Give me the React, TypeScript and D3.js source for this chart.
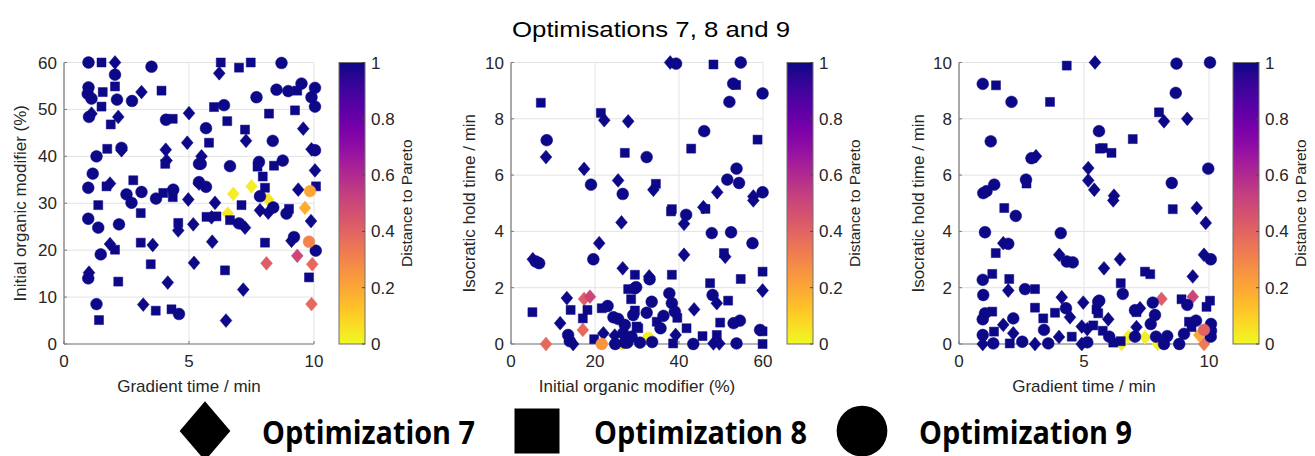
import React from "react";
import * as d3 from "d3";

type Pt = [number, number, number?];

// ---------- Panel 1: gradient time vs initial organic modifier ----------
const p1Diamonds: Pt[] = [
  [2.04, 60], [3.1, 53.7], [1.1, 49.1], [2.17, 48.4], [5.0, 49.2], [2.3, 41.3], [4.07, 41.4], [4.93, 42.9],
  [4.1, 39.1], [1.84, 34.2], [4.97, 30.8], [5.4, 34.2], [4.57, 24.2], [5.17, 25.5], [1.84, 21.3], [3.55, 21.1],
  [5.2, 17.3], [1.0, 15.2], [4.15, 13.1], [3.17, 8.4], [6.21, 57.7], [9.57, 45.9], [7.28, 43.3], [9.9, 41.5],
  [5.5, 40], [10.04, 37], [9.37, 32.9], [6.04, 30.1], [7.84, 28.5], [8.17, 28], [5.9, 27], [7.24, 24.8],
  [9.88, 26.2], [5.93, 21.8], [9.1, 22], [7.17, 11.6], [6.48, 5.0],
  [6.77, 32, 0.03], [7.5, 33.6, 0.03], [8.17, 30.8, 0.05], [6.55, 27.8, 0.04], [9.64, 29.0, 0.18],
  [9.33, 18.8, 0.5], [8.1, 17.2, 0.42], [9.93, 17.0, 0.38], [9.9, 8.5, 0.38],
];
const p1Squares: Pt[] = [
  [1.5, 60], [1.55, 53.7], [2.04, 54.9], [3.9, 54], [1.5, 50.6], [1.87, 46.8], [4.35, 48], [1.73, 41.6],
  [4.05, 38.4], [1.7, 33.6], [2.77, 34.9], [1.37, 29.6], [3.97, 32.2], [4.35, 31.3], [3.07, 27.9], [4.57, 25.8],
  [2.04, 20.1], [3.07, 21.6], [3.47, 17], [2.17, 13.3], [3.67, 7.1], [4.3, 7.4], [1.4, 5.1], [6.27, 60],
  [7.0, 58.9], [7.47, 60], [9.33, 54], [6.0, 50.5], [8.2, 49.1], [9.24, 49.8], [6.53, 47.5], [7.24, 45.7],
  [5.8, 42.9], [7.74, 37.8], [8.4, 38], [7.95, 35.7], [8.04, 33.3], [10.08, 33.6], [7.1, 29.6], [9.0, 28.8],
  [5.7, 27.1], [6.1, 27.2], [6.64, 26.4], [8.04, 21.6], [6.44, 15.7], [9.8, 14.2],
];
const p1Circles: Pt[] = [
  [0.98, 60], [2.04, 57.4], [3.5, 59.1], [0.98, 54.7], [0.95, 53.3], [1.1, 52.3], [2.12, 52.1], [2.72, 51.8],
  [1.0, 48.4], [4.08, 47.8], [2.3, 41.8], [1.3, 40], [5.4, 38.4], [1.15, 36.3], [0.97, 33.3], [2.5, 31.9],
  [3.1, 32.4], [2.7, 30.1], [3.68, 31], [4.37, 32.9], [0.97, 26.7], [1.37, 24.8], [2.2, 25.5], [1.47, 19.1],
  [0.97, 14], [1.3, 8.5], [4.6, 6.4], [8.7, 59.9], [8.5, 54.2], [8.97, 53.9], [9.5, 55.5], [10.04, 54.6],
  [9.9, 52.6], [10.04, 50.6], [7.7, 52.6], [6.4, 50.9], [5.68, 46], [8.35, 43.3], [10.04, 41.3], [5.47, 38.4],
  [6.64, 37.9], [7.8, 38.8], [8.75, 39.1], [5.4, 34.5], [5.68, 33.5], [7.84, 31.5], [8.37, 29.1], [8.9, 27.8],
  [7.0, 25.7], [9.2, 22.8], [10.07, 19.9],
  [9.84, 32.6, 0.2], [9.8, 21.8, 0.3],
];

// ---------- Panel 2: initial organic modifier vs isocratic hold ----------
const p2Diamonds: Pt[] = [
  [22.2, 7.95], [27.9, 7.91], [8.33, 6.64], [17.4, 6.22], [25.5, 5.81], [37.9, 10.0], [49.1, 5.39], [57.7, 5.24],
  [33.9, 5.48], [45.8, 4.86], [26.3, 4.32], [21, 3.58], [26.6, 2.69], [5.2, 3.01], [13.3, 1.63], [11.7, 0.74],
  [14.8, 0.0], [22, 0.38], [24.7, 0.3], [41.2, 4.27], [57.7, 5.1], [41.2, 3.17], [51, 3.1], [32.9, 2.4],
  [59.9, 1.9], [49, 1.45], [43.6, 1.23], [39.2, 0.32], [48.2, 0.02], [49.6, 0.02],
  [17.4, 1.6, 0.42], [18.8, 1.68, 0.5], [17.1, 0.5, 0.38], [8.33, 0, 0.38],
];
const p2Squares: Pt[] = [
  [7.1, 8.57], [21.4, 8.21], [27.1, 6.79], [48.2, 9.93], [53.6, 9.2], [58.7, 7.26], [42.9, 6.94], [34.5, 5.69],
  [38.3, 4.79], [29.5, 2.46], [27.9, 1.95], [28.6, 1.59], [5.1, 1.13], [14.2, 1.21], [18.2, 1.21], [21.6, 1.27],
  [17.1, 0.91], [19.8, 0.17], [29.9, 0.62], [38.1, 4.71], [46.3, 4.8], [50.7, 3.23], [38.3, 2.46], [59.9, 2.57],
  [54.7, 2.31], [47.4, 2.16], [51.7, 1.54], [29.5, 1.19], [39.6, 0.93], [49.8, 0.76], [59.9, 0.45], [30.3, 0.56],
  [34.7, 0.79], [41.8, 0.56], [45.6, 0.28], [49, 0.32], [38.6, 0.02], [59.9, 0],
];
const p2Circles: Pt[] = [
  [32.7, 0.22, 0.02], [26.5, 0.0, 0.02],
  [8.5, 7.24], [19.05, 5.66], [26.6, 5.33], [39.3, 9.96], [54.7, 10.0], [52.9, 9.25], [59.9, 8.9], [52, 8.6],
  [46, 7.56], [32.3, 6.64], [53.7, 6.23], [51.5, 5.84], [54.3, 5.72], [59.9, 5.39], [19.6, 3.01], [6.7, 2.87],
  [5.9, 2.93], [29.8, 2.02], [23, 1.35], [24.4, 0.95], [25.5, 0.89], [29.1, 1.03], [13.6, 0.32], [14, 0.1],
  [24.8, 0], [26.7, 0.38], [27.1, 0.05], [28.7, 0.26], [41.7, 4.59], [47.8, 3.94], [52.4, 3.97], [57.5, 3.58],
  [33, 2.3], [29.5, 1.98], [37.7, 1.8], [48, 1.74], [33.5, 1.5], [38.3, 1.45], [32.3, 1.11], [36.3, 1.0],
  [39, 1.15], [54.5, 0.83], [53, 0.74], [59.3, 0.5], [27.1, 0.68], [35.6, 0.56], [27.7, 0.05], [30.7, 0.05],
  [33.6, 0.07], [43.4, 0], [53.7, 0.02],
  [21.6, 0, 0.25],
];

// ---------- Panel 3: gradient time vs isocratic hold ----------
const p3Diamonds: Pt[] = [
  [5.44, 10.0], [3.08, 6.67], [5.17, 6.25], [5.17, 5.81], [5.41, 5.48], [8.2, 7.91], [9.13, 8.0], [6.2, 5.27],
  [9.51, 4.83], [1.77, 3.58], [4.01, 3.17], [1.97, 1.9], [4.11, 1.66], [4.97, 1.47], [4.44, 0.95], [1.77, 0.68],
  [2.17, 0.38], [4.91, 0.62], [0.95, 0], [3.04, 0], [4.0, 0.25], [4.91, 0], [6.17, 5.1], [9.87, 4.3],
  [9.8, 3.17], [5.8, 2.69], [6.44, 3.01], [9.35, 2.4], [5.97, 0.88], [7.24, 1.27], [7.1, 0.6], [5.13, 0.53],
  [8.1, 1.6, 0.42], [9.35, 1.68, 0.5], [6.77, 0.26, 0.02], [6.5, 0.0, 0.02], [7.44, 0.24, 0.02], [7.95, 0, 0.02],
  [9.61, 0.32, 0.2], [9.8, 0, 0.33],
];
const p3Squares: Pt[] = [
  [1.48, 9.19], [3.64, 8.6], [4.31, 9.89], [5.64, 6.94], [2.7, 5.7], [1.81, 4.83], [8.0, 8.23], [6.95, 7.28],
  [5.75, 6.96], [6.1, 6.79], [8.55, 4.79], [1.47, 3.23], [1.33, 2.49], [2.01, 2.31], [3.04, 1.95], [3.04, 1.29],
  [3.84, 1.11], [1.33, 1.15], [3.37, 0.91], [1.4, 0.44], [4.51, 0.26], [2.03, 0.02], [5.37, 0.66], [5.5, 1.23],
  [7.44, 2.57], [7.65, 2.48], [6.47, 2.16], [8.9, 1.59], [10.04, 1.54], [9.9, 1.32], [5.57, 1.09], [7.1, 1.13],
  [9.2, 0.79], [5.75, 0.47], [6.17, 0.05], [6.47, 0.1], [9.3, 0.6],
];
const p3Circles: Pt[] = [
  [0.95, 9.24], [2.1, 8.6], [8.7, 9.96], [10.04, 10.0], [8.67, 8.92], [1.27, 7.2], [2.9, 6.6], [5.6, 7.56],
  [2.68, 5.84], [1.41, 5.66], [0.97, 5.36], [1.1, 5.43], [9.97, 6.23], [8.51, 5.72], [2.27, 4.55], [1.04, 3.97],
  [4.07, 3.94], [1.97, 3.56], [4.31, 2.93], [4.55, 2.9], [0.95, 2.28], [2.64, 1.95], [0.97, 1.74], [5.57, 1.5],
  [4.28, 1.27], [1.04, 1.09], [0.95, 0.88], [2.17, 0.91], [0.95, 0.32], [3.4, 0.5], [2.53, 0.08], [1.37, 0.02],
  [3.57, 0.02], [10.07, 3.01], [6.55, 1.78], [7.75, 1.47], [9.13, 1.39], [5.61, 1.54], [7.04, 1.2], [7.84, 1.03],
  [7.67, 0.71], [9.48, 0.83], [10.08, 0.71], [6.01, 0.26], [7.04, 0.26], [7.88, 0.26], [8.33, 0.28], [8.2, 0],
  [8.81, 0], [9.0, 0.36], [10.08, 0.47], [10.07, 0.26], [5.13, 0.06],
  [9.8, 0.5, 0.4],
];

const gradTicks = [0, 5, 10];
const organicTicks = [0, 10, 20, 30, 40, 50, 60];
const organicTicksX = [0, 20, 40, 60];
const holdTicks = [0, 2, 4, 6, 8, 10];
const cbTicks = [0, 0.2, 0.4, 0.6, 0.8, 1];
const legendLabels = ["Optimization 7", "Optimization 8", "Optimization 9"];

const FONT = "'Liberation Sans', Arial, sans-serif";
const TOP = 62.5;
const BOTTOM = 344;

const color = (v: number) => d3.interpolatePlasma(1 - v);

function markerPath(shape: string, s: number) {
  if (shape === "diamond") {
    const w = 5.9 * s, h = 6.9 * s;
    return `M0,${-h}L${w},0L0,${h}L${-w},0Z`;
  }
  if (shape === "square") {
    const a = 4.5 * s;
    return `M${-a},${-a}H${a}V${a}H${-a}Z`;
  }
  const r = 5.9 * s;
  return `M${r},0A${r},${r} 0 1,1 ${-r},0A${r},${r} 0 1,1 ${r},0Z`;
}

type PanelProps = {
  x0: number; x1: number; xDomain: [number, number]; yDomain: [number, number];
  xTicks: number[]; yTicks: number[]; xLabel: string; yLabel: string; yLabelX: number;
  diamonds: Pt[]; squares: Pt[]; circles: Pt[]; cbX: number; id: string;
};

function Panel(p: PanelProps) {
  const x = d3.scaleLinear().domain(p.xDomain).range([p.x0, p.x1]);
  const y = d3.scaleLinear().domain(p.yDomain).range([BOTTOM, TOP]);
  const cb = d3.scaleLinear().domain([0, 1]).range([BOTTOM, TOP]);
  const cbW = 26;
  const series: [string, Pt[]][] = [["diamond", p.diamonds], ["square", p.squares], ["circle", p.circles]];
  const stops = d3.range(0, 1.0001, 0.05);
  return (
    <g>
      {p.xTicks.map((t) => (
        <line key={"gx" + t} x1={x(t)} x2={x(t)} y1={TOP} y2={BOTTOM} stroke="#e3e3e3" strokeWidth={1} />
      ))}
      {p.yTicks.map((t) => (
        <line key={"gy" + t} x1={p.x0} x2={p.x1} y1={y(t)} y2={y(t)} stroke="#e3e3e3" strokeWidth={1} />
      ))}
      <line x1={p.x0} x2={p.x0} y1={TOP} y2={BOTTOM} stroke="#7a7a7a" strokeWidth={1.2} />
      <line x1={p.x0} x2={p.x1} y1={BOTTOM} y2={BOTTOM} stroke="#7a7a7a" strokeWidth={1.2} />
      {p.xTicks.map((t) => (
        <g key={"tx" + t}>
          <line x1={x(t)} x2={x(t)} y1={BOTTOM} y2={BOTTOM - 3} stroke="#7a7a7a" />
          <text x={x(t)} y={BOTTOM + 23} textAnchor="middle" fontSize={17} fill="#262626" fontFamily={FONT}>{t}</text>
        </g>
      ))}
      {p.yTicks.map((t) => (
        <g key={"ty" + t}>
          <line x1={p.x0} x2={p.x0 + 3} y1={y(t)} y2={y(t)} stroke="#7a7a7a" />
          <text x={p.x0 - 7} y={y(t) + 6} textAnchor="end" fontSize={17} fill="#262626" fontFamily={FONT}>{t}</text>
        </g>
      ))}
      <text x={(p.x0 + p.x1) / 2} y={BOTTOM + 48} textAnchor="middle" fontSize={17} fill="#262626" fontFamily={FONT}>{p.xLabel}</text>
      <text transform={`translate(${p.yLabelX},${(TOP + BOTTOM) / 2}) rotate(-90)`} textAnchor="middle" fontSize={17} fill="#262626" fontFamily={FONT}>{p.yLabel}</text>
      {series.map(([shape, pts]) =>
        pts.map((d, i) => (
          <path key={shape + i} d={markerPath(shape, 1)} transform={`translate(${x(d[0])},${y(d[1])})`}
            fill={color(d[2] ?? 1)} stroke={color(d[2] ?? 1)} strokeWidth={0.5} />
        ))
      )}
      <defs>
        <linearGradient id={p.id} x1="0" y1="1" x2="0" y2="0">
          {stops.map((s) => (
            <stop key={s} offset={s} stopColor={color(s)} />
          ))}
        </linearGradient>
      </defs>
      <rect x={p.cbX} y={TOP} width={cbW} height={BOTTOM - TOP} fill={`url(#${p.id})`} stroke="#6e6e6e" strokeWidth={1} />
      {cbTicks.map((t) => (
        <g key={"cb" + t}>
          <line x1={p.cbX + cbW} x2={p.cbX + cbW - 3} y1={cb(t)} y2={cb(t)} stroke="#4a4a4a" />
          <text x={p.cbX + cbW + 6} y={cb(t) + 6} fontSize={17} fill="#262626" fontFamily={FONT}>{t}</text>
        </g>
      ))}
      <text transform={`translate(${p.cbX + cbW + 47},${(TOP + BOTTOM) / 2}) rotate(-90)`} textAnchor="middle" fontSize={15.5} fill="#262626" fontFamily={FONT}>Distance to Pareto</text>
    </g>
  );
}

export default function App() {
  const legendX = [205, 537, 862];
  const legendShapes = ["diamond", "square", "circle"];
  return (
    <svg width={1315} height={456} style={{ position: "absolute", left: 0, top: 0, background: "#fff" }}>
      <rect width={1315} height={456} fill="#fff" />
      <text x={651} y={37} textAnchor="middle" fontSize={22.5} textLength={278} lengthAdjust="spacingAndGlyphs" fill="#000" fontFamily={FONT}>Optimisations 7, 8 and 9</text>
      <Panel id="cb1" x0={64} x1={314} xDomain={[0, 10]} yDomain={[0, 60]} xTicks={gradTicks} yTicks={organicTicks}
        xLabel="Gradient time / min" yLabel="Initial organic modifier (%)" yLabelX={26}
        diamonds={p1Diamonds} squares={p1Squares} circles={p1Circles} cbX={339} />
      <Panel id="cb2" x0={511} x1={763} xDomain={[0, 60]} yDomain={[0, 10]} xTicks={organicTicksX} yTicks={holdTicks}
        xLabel="Initial organic modifier (%)" yLabel="Isocratic hold time / min" yLabelX={475}
        diamonds={p2Diamonds} squares={p2Squares} circles={p2Circles} cbX={787} />
      <Panel id="cb3" x0={959} x1={1209} xDomain={[0, 10]} yDomain={[0, 10]} xTicks={gradTicks} yTicks={holdTicks}
        xLabel="Gradient time / min" yLabel="Isocratic hold time / min" yLabelX={924}
        diamonds={p3Diamonds} squares={p3Squares} circles={p3Circles} cbX={1233} />
      {legendShapes.map((s, i) => (
        <g key={s}>
          <path d={markerPath(s, s === "square" ? 5 : 4.3)} transform={`translate(${legendX[i]},${431})`} fill="#000" />
          <text x={legendX[i] + 57} y={444} fontSize={33} fontWeight="bold" fontFamily="'Open Sans', Carlito, sans-serif"
            textLength={213} lengthAdjust="spacingAndGlyphs" fill="#000">{legendLabels[i]}</text>
        </g>
      ))}
    </svg>
  );
}
